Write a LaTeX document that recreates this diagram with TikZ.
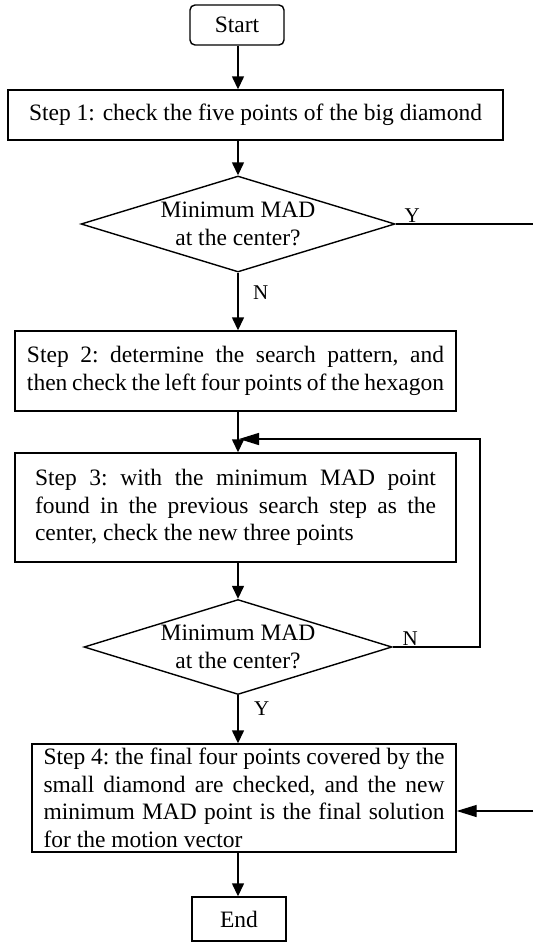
\documentclass[tikz,border=0pt]{standalone}
\usepackage{fontspec}
\setmainfont{Liberation Serif}
\usetikzlibrary{arrows.meta,shapes.geometric}

\begin{document}
\begin{tikzpicture}[x=1pt,y=-1pt,line width=1.4pt,
  font=\fontsize{23.5}{27.6}\selectfont,
  >={Triangle[length=13pt,width=12pt]},
  longtip/.style={-{Triangle[length=20pt,width=12pt]}},
  box/.style={draw,rectangle,inner sep=0pt},
  para/.style={box,align=justify,text width=#1,execute at begin node={\frenchspacing\hyphenpenalty=10000 }},
  test/.style={draw,diamond,aspect=3.27,inner sep=0pt,minimum width=314pt,minimum height=96pt,align=center},
  lbl/.style={font=\fontsize{21}{25}\selectfont}]
\useasboundingbox (0,0) rectangle (533,942);
\node[box,rounded corners=5pt,minimum width=94pt,minimum height=40pt] (start) at (237,25) {Start};
\node[box,minimum width=495pt,minimum height=50pt] (step1) at (255.5,115) {Step 1: check the five points of the big diamond};
\node[test] (dia1) at (238,224) {Minimum MAD\\at the center?};
\node[para=417pt,inner xsep=12pt,minimum height=80pt] (step2) at (235.5,371) {Step 2: determine the search pattern, and\linebreak then check the left four points of the hexagon};
\node[para=401pt,inner xsep=20pt,minimum height=109pt] (step3) at (235.5,507.5) {Step 3: with the minimum MAD point found in the previous search step as the center, check the new three points};
\node[test,minimum width=308pt,minimum height=95pt] (dia2) at (238,647) {Minimum MAD\\at the center?};
\node[para=401pt,inner xsep=11.5pt,minimum height=108pt] (step4) at (244,798) {Step 4: the final four points covered by the small diamond are checked, and the new minimum MAD point is the final solution for the motion vector};
\node[box,minimum width=94pt,minimum height=44pt] (end) at (239,919) {End};
\coordinate (yout) at (533,224);
\coordinate (yin) at (533,811);
\coordinate (loop) at (480,439);
\coordinate (join) at (239,439);
\draw[->] (start.south -| dia1.north) -- (dia1.north |- step1.north);
\draw[->] (dia1.north |- step1.south) -- (dia1.north);
\draw[->] (dia1.south) -- (dia1.south |- step2.north) node[lbl,pos=.35,right=11pt] {N};
\draw (dia1.east) -- (yout) node[lbl,pos=.12,above,inner sep=1pt] {Y};
\draw[->] (dia1.south |- step2.south) -- (dia1.south |- step3.north);
\draw[->] (dia2.north |- step3.south) -- (dia2.north);
\draw[longtip] (dia2.east) -| (loop) node[lbl,pos=.1,above,inner sep=1pt] {N} -- (join);
\draw[->] (dia2.south) -- (dia2.south |- step4.north) node[lbl,pos=.28,right=12pt] {Y};
\draw[longtip] (yin) -- (step4.east |- yin);
\draw[->] (dia2.south |- step4.south) -- (dia2.south |- end.north);
\end{tikzpicture}
\end{document}
